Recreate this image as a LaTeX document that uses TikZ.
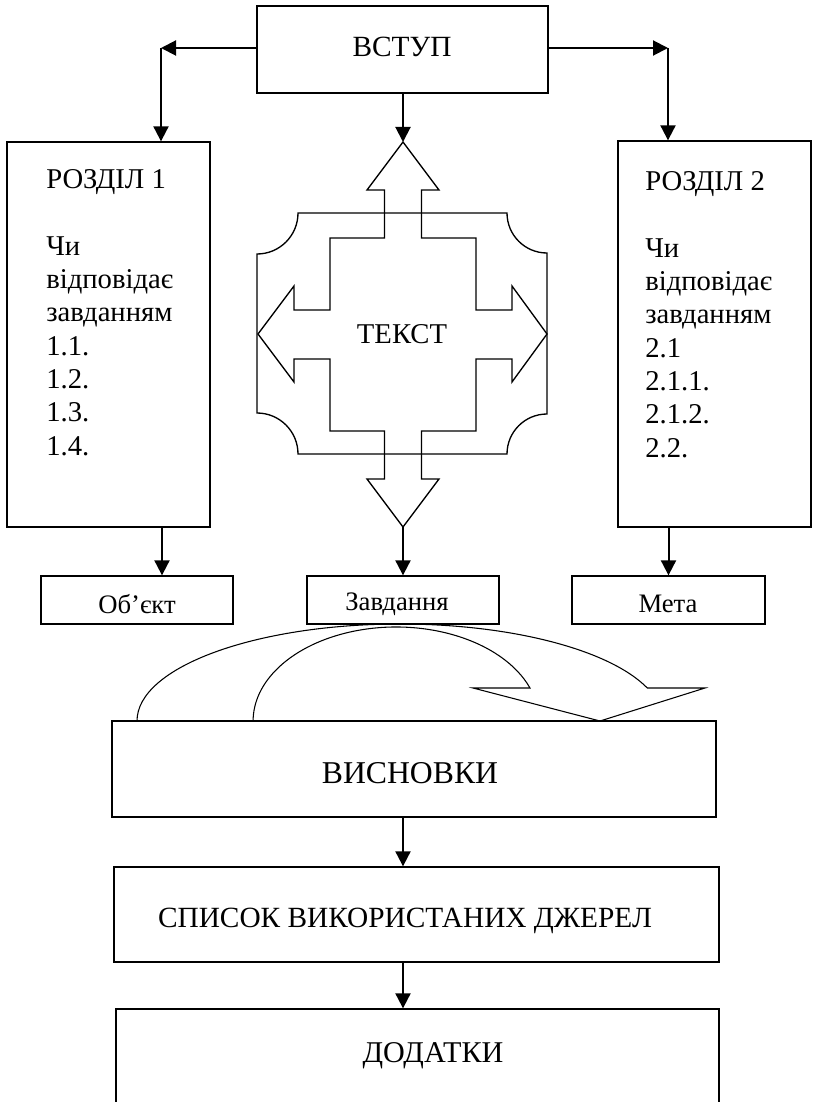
\documentclass[tikz,border=0pt]{standalone}
\usepackage{fontspec}
\setmainfont{Liberation Serif}
\usetikzlibrary{arrows.meta}
\tikzset{
  boxnode/.style={draw, line width=1pt, rectangle, inner sep=0pt},
  arr/.style={line width=1.5pt, -{Triangle[length=11.25pt,width=11.25pt]}},
  shapeline/.style={line width=1pt, line join=miter},
  curveline/.style={line width=0.8pt},
  bigtxt/.style={inner sep=0pt, font=\fontsize{22}{26}\selectfont},
  midtxt/.style={inner sep=0pt, font=\fontsize{21.5}{25}\selectfont},
  smalltxt/.style={inner sep=0pt, font=\fontsize{20}{24}\selectfont},
  secttxt/.style={inner sep=0pt, align=left, font=\fontsize{21.5}{25}\selectfont},
}
\begin{document}
\begin{tikzpicture}[x=0.75pt,y=-0.75pt]
\useasboundingbox (0,0) rectangle (813,1102);
\clip (0,0) rectangle (813,1102);

% boxes
\node[boxnode, minimum width=218.25pt, minimum height=65.25pt] (vstup) at (402.5,49.5) {};
\node[boxnode, minimum width=152.25pt, minimum height=288.75pt] (r1) at (108.5,334.5) {};
\node[boxnode, minimum width=144.75pt, minimum height=289.5pt] (r2) at (714.5,334) {};
\node[boxnode, minimum width=144pt, minimum height=36pt] (obj) at (137,600) {};
\node[boxnode, minimum width=144pt, minimum height=36pt] (zav) at (403,600) {};
\node[boxnode, minimum width=144.75pt, minimum height=36pt] (meta) at (668.5,600) {};
\node[boxnode, minimum width=453pt, minimum height=72pt] (vysn) at (414,769) {};
\node[boxnode, minimum width=453.75pt, minimum height=71.25pt] (spys) at (416.5,914.5) {};
\node[boxnode, minimum width=452.25pt, minimum height=83.25pt] (dod) at (417.5,1064.5) {};

% texts
\node[bigtxt, anchor=base] (vstupT) at (402,57) {ВСТУП};
\node[secttxt, anchor=base west] (r1T) at (46,455) {РОЗДІЛ 1\\[25pt]Чи\\відповідає\\завданням\\1.1.\\1.2.\\1.3.\\1.4.};
\node[secttxt, anchor=base west] (r2T) at (645,457) {РОЗДІЛ 2\\[25pt]Чи\\відповідає\\завданням\\2.1\\2.1.1.\\2.1.2.\\2.2.};
\node[midtxt, anchor=base] (tekstT) at (402,343) {ТЕКСТ};
\node[smalltxt, anchor=base] (objT) at (137,613) {Об’єкт};
\node[smalltxt, anchor=base] (zavT) at (397,610) {Завдання};
\node[smalltxt, anchor=base] (metaT) at (668,612) {Мета};
\node[bigtxt, anchor=base, font=\fontsize{23.8}{28}\selectfont] (vysnT) at (410,783) {ВИСНОВКИ};
\node[bigtxt, anchor=base] (spysT) at (405,927) {СПИСОК ВИКОРИСТАНИХ ДЖЕРЕЛ};
\node[bigtxt, anchor=base, font=\fontsize{22.6}{27}\selectfont] (dodT) at (433,1062) {ДОДАТКИ};

% plaque with concave corners
\draw[shapeline] (298,213) -- (507,213)
  arc[start angle=180, end angle=90, radius=40] -- (547,414)
  arc[start angle=270, end angle=180, radius=40] -- (298,454)
  arc[start angle=0, end angle=-90, radius=41] -- (257,254)
  arc[start angle=90, end angle=0, radius=41] -- cycle;

% four-way arrow
\coordinate (tUp) at (403,142);
\coordinate (tDown) at (403,527);
\draw[shapeline] (tUp) -- (439,190) -- (421.5,190) -- (421.5,238) -- (476,238) -- (476,310)
  -- (512,310) -- (512,286) -- (547,334) -- (512,382) -- (512,359) -- (476,359)
  -- (476,431) -- (421.5,431) -- (421.5,479) -- (439,479) -- (tDown) -- (367,479)
  -- (384.5,479) -- (384.5,431) -- (330,431) -- (330,359) -- (294,359) -- (294,382)
  -- (258,334) -- (294,286) -- (294,310) -- (330,310) -- (330,238) -- (384.5,238)
  -- (384.5,190) -- (367,190) -- cycle;

% curved arrow
\draw[curveline, line join=miter] (137,721)
  arc[start angle=180, end angle=340.1, x radius=263, y radius=97]
  -- (705,688) -- (600,721) -- (473,688) -- (530,688)
  arc[start angle=339.45, end angle=180, x radius=143, y radius=94] -- cycle;

% connectors
\coordinate (cL) at (161,48);
\coordinate (cR) at (668,48);
\coordinate (a1) at (162,550);
\coordinate (c403) at (403,840);
\draw[arr] (cL -| vstup.west) -- (cL);
\draw[arr] (cL) -- (cL |- r1.north);
\draw[arr] (cR -| vstup.east) -- (cR);
\draw[arr] (cR) -- (cR |- r2.north);
\draw[arr] (vstup.south -| tUp) -- (tUp);
\draw[arr] (tDown) -- (zav.north -| tDown);
\draw[arr] (a1 |- r1.south) -- (a1 |- obj.north);
\draw[arr] (meta.north |- r2.south) -- (meta.north);
\draw[arr] (c403 |- vysn.south) -- (c403 |- spys.north);
\draw[arr] (c403 |- spys.south) -- (c403 |- dod.north);
\end{tikzpicture}
\end{document}
